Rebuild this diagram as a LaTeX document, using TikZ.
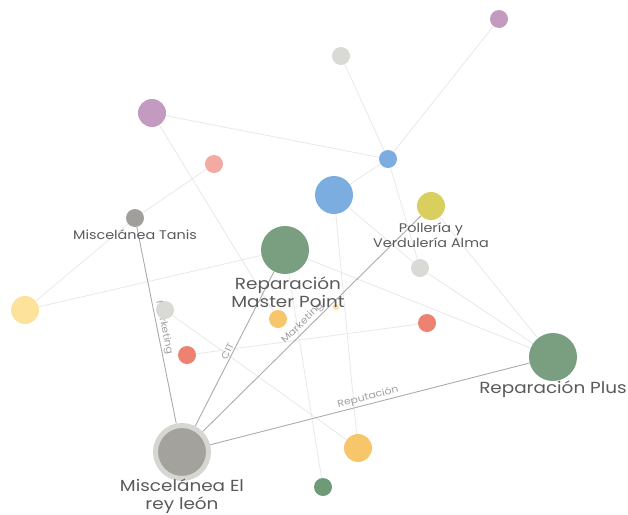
\documentclass[tikz,border=0pt]{standalone}
\usepackage{fontspec}
\setmainfont{Poppins}[FakeStretch=1.15]
\usetikzlibrary{backgrounds}
\definecolor{linkgray}{HTML}{E8E8E8}
\definecolor{maingray}{HTML}{ABABAB}
\definecolor{labelgray}{HTML}{5A5A5A}
\definecolor{edgegray}{HTML}{A0A0A0}
\definecolor{cpurple}{HTML}{C39BC0}
\definecolor{clgray}{HTML}{D9D9D6}
\definecolor{csalmon}{HTML}{F2AAA2}
\definecolor{cblue}{HTML}{7BADE0}
\definecolor{colive}{HTML}{D9CF5E}
\definecolor{cdgray}{HTML}{A09F99}
\definecolor{cgreen}{HTML}{7A9E80}
\definecolor{cyellow}{HTML}{FCE29A}
\definecolor{corange}{HTML}{F8C66A}
\definecolor{cred}{HTML}{EE8272}
\definecolor{cbiggray}{HTML}{A3A29D}
\definecolor{chalo}{HTML}{D6D6D3}
\definecolor{cdgreen}{HTML}{6F9A78}
\begin{document}
\begin{tikzpicture}[x=1pt,y=-1pt,
  dot/.style={circle,inner sep=0pt,draw=none},
  lnk/.style={draw=linkgray,line width=0.8pt},
  mainlnk/.style={draw=maingray,line width=0.9pt},
  lbl/.style={text=labelgray,align=center,inner sep=0pt,font=\fontsize{16}{18}\selectfont},
  smlbl/.style={text=labelgray,align=center,inner sep=0pt,font=\fontsize{12.5}{14.5}\selectfont},
  elbl/.style={text=edgegray,inner sep=1.5pt,font=\fontsize{9.5}{10}\selectfont}]
\useasboundingbox (0,0) rectangle (628,514);

% entities
\node[dot,fill=cpurple,minimum size=18pt] (purpleTR) at (499,19) {};
\node[dot,fill=clgray,minimum size=18pt] (grayTop) at (341,56) {};
\node[dot,fill=cpurple,minimum size=28pt] (purpleL) at (152,113) {};
\node[dot,fill=csalmon,minimum size=18pt] (pink) at (214,164) {};
\node[dot,fill=cblue,minimum size=18pt] (blueS) at (388,159) {};
\node[dot,fill=cblue,minimum size=38pt] (blueB) at (334,195) {};
\node[dot,fill=colive,minimum size=28pt] (polleria) at (431,206) {};
\node[dot,fill=cdgray,minimum size=18pt] (tanis) at (135,218) {};
\node[dot,fill=cgreen,minimum size=48pt] (master) at (285,250) {};
\node[dot,fill=clgray,minimum size=18pt] (grayR) at (420,268) {};
\node[dot,fill=cyellow,minimum size=28pt] (yellowL) at (25,310) {};
\node[dot,fill=clgray,minimum size=18pt] (grayL) at (165,310) {};
\node[dot,fill=corange,minimum size=18pt] (orangeS) at (278,319) {};
\node[dot,fill=cyellow,minimum size=6pt] (tiny) at (336,307) {};
\node[dot,fill=cred,minimum size=18pt] (redR) at (427,323) {};
\node[dot,fill=cred,minimum size=18pt] (redL) at (187,355) {};
\node[dot,fill=cgreen,minimum size=48pt] (plus) at (553,357) {};
\node[dot,fill=cbiggray,draw=chalo,line width=5pt,minimum size=53pt] (rey) at (182,452) {};
\node[dot,fill=corange,minimum size=28pt] (orangeB) at (358,448) {};
\node[dot,fill=cdgreen,minimum size=18pt] (greenS) at (323,487) {};

% entity names
\node[smlbl] (tanisL) at (135,235) {Miscelánea Tanis};
\node[smlbl] (polleriaL) at (431,235) {Pollería y\\Verdulería Alma};
\node[lbl] (masterL) at (288,292) {Reparación\\Master Point};
\node[lbl] (plusL) at (553,389) {Reparación Plus};
\node[lbl] (reyL) at (182,496) {Miscelánea El\\rey león};

% connections
\begin{pgfonlayer}{background}
\draw[lnk] (purpleTR) -- (blueS);
\draw[lnk] (blueS) -- (blueB);
\draw[lnk] (grayTop) -- (blueS);
\draw[lnk] (purpleL) -- (blueS);
\draw[lnk] (blueS) -- (grayR);
\draw[lnk] (purpleL) -- (orangeS);
\draw[lnk] (pink) -- (tanis);
\draw[lnk] (tanis) -- (yellowL);
\draw[lnk] (yellowL) -- (master);
\draw[lnk] (master) -- (plus);
\draw[lnk] (blueB) -- (grayR);
\draw[lnk] (grayR) -- (plus);
\draw[lnk] (polleria) -- (plus);
\draw[lnk] (blueB) -- (orangeB);
\draw[lnk] (master) -- (greenS);
\draw[lnk] (grayL) -- (orangeB);
\draw[lnk] (redL) -- (redR);
\draw[mainlnk] (tanis) -- node[elbl,sloped,above,pos=0.52] {Marketing} (rey);
\draw[mainlnk] (rey) -- node[elbl,sloped,above,pos=0.47] {CIT} (master);
\draw[mainlnk] (rey) -- node[elbl,sloped,above,pos=0.48] {Marketing} (polleria);
\draw[mainlnk] (rey) -- node[elbl,sloped,above,pos=0.5] {Reputación} (plus);
\end{pgfonlayer}
\end{tikzpicture}
\end{document}
